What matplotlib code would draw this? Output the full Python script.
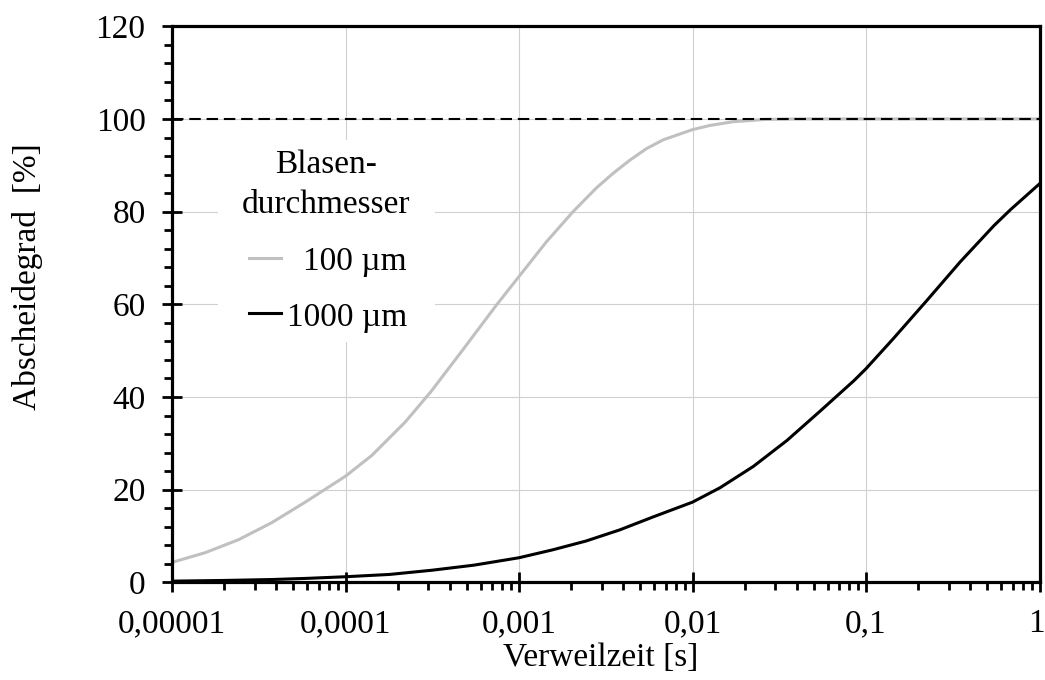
import matplotlib
matplotlib.use("Agg")
import matplotlib.pyplot as plt
from matplotlib.ticker import FixedLocator, FuncFormatter, MultipleLocator, LogLocator, NullFormatter
from matplotlib.patches import Rectangle
from matplotlib.lines import Line2D
from matplotlib.transforms import ScaledTranslation

# Residence time [s] and separation efficiency [%] for two bubble diameters
t_100 = [1e-5, 1.556e-5, 2.42e-5, 3.77e-5, 5.86e-5, 1e-4, 1.42e-4, 2.21e-4,
         3.1e-4, 4.75e-4, 7.4e-4, 1e-3, 1.44e-3, 2.05e-3, 2.79e-3, 3.47e-3,
         4.35e-3, 5.43e-3, 6.78e-3, 1e-2, 1.26e-2, 1.71e-2, 2.61e-2, 4e-2, 1.0]
e_100 = [4.3, 6.4, 9.2, 12.9, 17.3, 22.9, 27.4, 34.6,
         41.1, 50.2, 59.8, 66.0, 73.5, 80.0, 85.1, 88.2,
         91.1, 93.6, 95.5, 97.7, 98.6, 99.4, 99.9, 100.0, 100.0]

t_1000 = [1e-5, 2e-5, 3.77e-5, 6e-5, 1e-4, 1.8e-4, 3.14e-4, 5.5e-4, 1e-3,
          1.56e-3, 2.43e-3, 3.8e-3, 5.92e-3, 1e-2, 1.44e-2, 2.24e-2, 3.5e-2,
          5.46e-2, 8.51e-2, 0.1, 0.143, 0.224, 0.35, 0.547, 0.684, 1.0]
e_1000 = [0.25, 0.4, 0.6, 0.85, 1.2, 1.7, 2.6, 3.7, 5.3,
          7.0, 8.9, 11.3, 14.1, 17.3, 20.4, 25.0, 30.6,
          37.0, 43.5, 46.1, 52.5, 60.8, 69.2, 77.0, 80.5, 86.0]

x_ticks = [1e-5, 1e-4, 1e-3, 1e-2, 1e-1, 1.0]
x_tick_labels = ["0,00001", "0,0001", "0,001", "0,01", "0,1", "1"]
legend_title = ["Blasen-", "durchmesser"]
series_labels = ["100 µm", "1000 µm"]
series_colors = ["#c0c0c0", "#000000"]

plt.rcParams["font.family"] = ["Liberation Serif", "DejaVu Serif"]
plt.rcParams["font.size"] = 24

fig = plt.figure(figsize=(10.45, 6.8), dpi=100)
ax = fig.add_axes([172 / 1045, (680 - 582.3) / 680, 867.5 / 1045, 556 / 680])

ax.plot(t_100, e_100, color=series_colors[0], lw=2.2, zorder=2,
        solid_joinstyle="round")
ax.axhline(100, color="black", lw=1.5, ls=(0, (5.5, 2.8)), zorder=3)
ax.plot(t_1000, e_1000, color=series_colors[1], lw=2.2, zorder=4,
        solid_joinstyle="round")

ax.set_xscale("log")
ax.set_xlim(1e-5, 1.0)
ax.set_ylim(0, 120)

ax.xaxis.set_major_locator(FixedLocator(x_ticks))
ax.xaxis.set_major_formatter(FuncFormatter(
    lambda v, p: x_tick_labels[x_ticks.index(min(x_ticks, key=lambda k: abs(k - v)))]))
ax.xaxis.set_minor_locator(LogLocator(base=10, subs=range(2, 10), numticks=20))
ax.xaxis.set_minor_formatter(NullFormatter())
ax.yaxis.set_major_locator(MultipleLocator(20))
ax.yaxis.set_minor_locator(MultipleLocator(4))

ax.tick_params(which="major", direction="inout", length=15, width=2.0,
               labelsize=24, top=False, right=False)
ax.tick_params(axis="x", which="major", pad=11.5)
ax.tick_params(axis="y", which="major", pad=11.5)
ax.tick_params(which="minor", direction="out", length=6, width=2.0,
               top=False, right=False)

for s in ax.spines.values():
    s.set_linewidth(2.3)

ax.set_axisbelow(True)
ax.grid(True, which="major", color="#d0d0d0", lw=0.8)

# legend block drawn by hand so the labels can be right-aligned
ax.add_patch(Rectangle((0.053, 0.432), 0.25, 0.3635, transform=ax.transAxes,
                       facecolor="white", edgecolor="none", zorder=1.5))
ax.text(0.1775, 0.7356, legend_title[0], transform=ax.transAxes,
        ha="center", va="baseline", zorder=5)
ax.text(0.1775, 0.6637, legend_title[1], transform=ax.transAxes,
        ha="center", va="baseline", zorder=5)
for yl, yt, lab, col in [(0.5827, 0.5617, series_labels[0], series_colors[0]),
                         (0.4838, 0.4610, series_labels[1], series_colors[1])]:
    ax.add_line(Line2D([0.0888, 0.1257], [yl, yl], transform=ax.transAxes,
                       color=col, lw=2.2, zorder=5))
    ax.text(0.2709, yt, lab, transform=ax.transAxes, ha="right",
            va="baseline", zorder=5)

fig.text(601 / 1045, 14 / 680, "Verweilzeit [s]", ha="center", va="baseline")
fig.text(27.5 / 1045, (680 - 277) / 680, "Abscheidegrad  [%]", rotation=90,
         ha="center", va="center")

# keep the last x tick label inside the figure edge
fig.canvas.draw()
last = ax.xaxis.get_major_ticks()[-1].label1
last.set_transform(last.get_transform()
                   + ScaledTranslation(-3 / 100, 0, fig.dpi_scale_trans))

fig.savefig("out.png", dpi=100)
